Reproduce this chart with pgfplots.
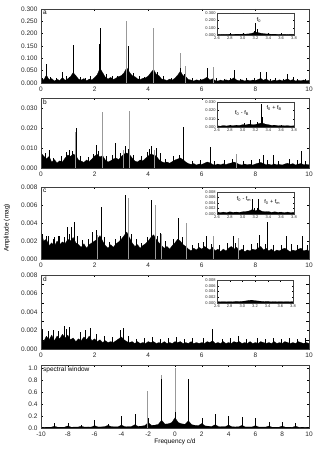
\documentclass[border=0pt]{standalone}
\usepackage{pgfplots}
\pgfplotsset{compat=1.18}
\usepackage{fontspec}
\setmainfont{Liberation Sans}

\definecolor{spk}{gray}{0.6}

\tikzset{
  lab/.style={anchor=north west, font=\fontsize{6.5}{7}\selectfont, inner sep=2pt},
  flab/.style={font=\fontsize{5.5}{6}\selectfont, inner sep=0.5pt},
}

\pgfplotsset{
  main/.style={
    scale only axis, width=268pt, xmin=0, xmax=10, ymin=0,
    xtick={0,2,4,6,8,10},
    scaled y ticks=false,
    /pgf/number format/assume math mode=true,
    yticklabel style={/pgf/number format/.cd,fixed,fixed zerofill,precision=3},
    ticklabel style={font=\fontsize{6.5}{7}\selectfont, text=black!85},
    tick style={black, line width=0.35pt},
    major tick length=2pt,
    axis line style={line width=0.5pt, black!75},
    axis on top, anchor=north west,
  },
  ins/.style={
    scale only axis, width=77pt, xmin=2.6, xmax=3.8, ymin=0,
    xtick={2.6,2.8,3.0,3.2,3.4,3.6,3.8},
    scaled y ticks=false,
    /pgf/number format/assume math mode=true,
    xticklabel style={yshift=-0.8pt, /pgf/number format/.cd,fixed,fixed zerofill,precision=1},
    yticklabel style={xshift=-0.8pt, /pgf/number format/.cd,fixed,fixed zerofill,precision=3},
    ticklabel style={font=\fontsize{4}{5}\selectfont, text=black!85, inner sep=0.5pt},
    tick style={black, line width=0.3pt},
    major tick length=1.5pt,
    axis line style={line width=0.5pt, black!75},
    axis background/.style={fill=white},
    axis on top, anchor=north west,
  },
  env/.style={fill=black, draw=black, line width=0.2pt},
  nz/.style={ycomb, black, line width=0.4pt, mark=none},
  pk/.style={ycomb, black, line width=0.6pt, mark=none},
  pg/.style={ycomb, spk, line width=0.6pt, mark=none},
}

\begin{document}
\begin{tikzpicture}
\useasboundingbox (0,0) rectangle (330pt,-462pt);

% ---------------- panel a
\begin{axis}[main, at={(41pt,-9pt)}, height=74pt, ymax=0.3,
  ytick={0,0.05,0.1,0.15,0.2,0.25,0.3}]
\addplot[env] coordinates {(0,.020)(0.1,.012)(0.2,.032)(0.3,.014)(0.4,.018)(0.5,.008)(0.6,.015)(0.7,.010)(0.8,.022)(0.9,.011)
(1.0,.017)(1.1,.026)(1.2,.042)(1.3,.030)(1.4,.016)(1.5,.012)(1.6,.018)(1.7,.009)(1.8,.016)(1.9,.013)
(2.0,.022)(2.1,.034)(2.2,.060)(2.3,.042)(2.4,.024)(2.5,.016)(2.6,.023)(2.7,.014)(2.8,.020)(2.9,.026)
(3.0,.030)(3.1,.042)(3.2,.062)(3.3,.044)(3.4,.030)(3.5,.026)(3.6,.017)(3.7,.014)(3.8,.019)(3.9,.021)
(4.0,.028)(4.1,.042)(4.2,.055)(4.3,.036)(4.4,.030)(4.5,.016)(4.6,.014)(4.7,.010)(4.8,.016)(4.9,.012)
(5.0,.020)(5.1,.032)(5.2,.048)(5.3,.030)(5.4,.026)(5.5,.014)(5.6,.012)(5.7,.008)(5.8,.013)(5.9,.010)
(6.0,.013)(6.1,.017)(6.2,.024)(6.3,.012)(6.4,.017)(6.5,.010)(6.6,.008)(6.7,.012)(6.8,.009)(6.9,.013)
(7.0,.010)(7.1,.015)(7.2,.021)(7.3,.012)(7.4,.009)(7.5,.013)(7.6,.008)(7.7,.012)(7.8,.009)(7.9,.012)
(8.0,.010)(8.1,.014)(8.2,.019)(8.3,.011)(8.4,.017)(8.5,.009)(8.6,.008)(8.7,.012)(8.8,.009)(8.9,.013)
(9.0,.009)(9.1,.012)(9.2,.017)(9.3,.010)(9.4,.014)(9.5,.008)(9.6,.011)(9.7,.009)(9.8,.012)(9.9,.009)(10,.011)} \closedcycle;
\addplot[nz] coordinates {(0.05,.022)(0.35,.024)(0.55,.020)(0.95,.028)(1.05,.025)(1.45,.026)(1.65,.022)(1.85,.030)
(2.45,.035)(2.65,.030)(2.85,.028)(3.45,.040)(3.65,.030)(3.85,.026)(4.35,.045)(4.55,.028)(4.85,.022)
(5.35,.036)(5.65,.020)(5.95,.018)(6.55,.020)(6.85,.018)(7.05,.020)(7.45,.018)(7.65,.020)(7.95,.022)
(8.55,.018)(8.75,.020)(9.05,.017)(9.55,.016)(9.85,.018)};
\addplot[pg] coordinates {(3.2,.253)(4.19,.222)(5.18,.120)(5.4,.068)(6.42,.065)};
\addplot[pk] coordinates {(0.2,.075)(0.8,.045)(1.22,.155)(2.18,.160)(2.21,.222)(3.24,.150)(5.21,.060)
(6.2,.060)(7.2,.052)(8.2,.045)(8.41,.045)(9.2,.036)(9.4,.025)};
\node[lab] at (rel axis cs:0,1) {a};
\end{axis}

\begin{axis}[ins, at={(217pt,-13pt)}, height=22pt, ymax=0.3, ytick={0,0.1,0.2,0.3}]
\addplot[env] coordinates {(2.60,.010)(2.65,.006)(2.70,.010)(2.75,.007)(2.80,.011)(2.85,.008)(2.90,.012)(2.95,.010)
(3.00,.013)(3.05,.012)(3.10,.016)(3.15,.025)(3.20,.040)(3.25,.030)(3.30,.022)(3.35,.016)(3.40,.014)(3.45,.010)
(3.50,.012)(3.55,.008)(3.60,.010)(3.65,.007)(3.70,.009)(3.75,.007)(3.80,.009)} \closedcycle;
\addplot[pk, line width=0.5pt] coordinates {(3.18,.06)(3.2,.16)(3.22,.08)};
\node[flab, anchor=south west] at (axis cs:3.21,0.16) {f\textsubscript{0}};
\end{axis}

% ---------------- panel b
\begin{axis}[main, at={(41pt,-98pt)}, height=70pt, ymax=0.035, ytick={0,0.01,0.02,0.03}]
\addplot[env] coordinates {(0,.0075)(0.1,.0060)(0.2,.0045)(0.3,.0058)(0.4,.0030)(0.5,.0042)(0.6,.0025)(0.7,.0036)(0.8,.0030)(0.9,.0050)
(1.0,.0065)(1.1,.0058)(1.2,.0070)(1.3,.0062)(1.4,.0040)(1.5,.0035)(1.6,.0028)(1.7,.0040)(1.8,.0032)(1.9,.0045)
(2.0,.0060)(2.1,.0068)(2.2,.0055)(2.3,.0062)(2.4,.0040)(2.5,.0030)(2.6,.0036)(2.7,.0045)(2.8,.0050)(2.9,.0042)
(3.0,.0058)(3.1,.0070)(3.2,.0075)(3.3,.0068)(3.4,.0050)(3.5,.0035)(3.6,.0030)(3.7,.0040)(3.8,.0036)(3.9,.0048)
(4.0,.0060)(4.1,.0070)(4.2,.0065)(4.3,.0060)(4.4,.0042)(4.5,.0032)(4.6,.0026)(4.7,.0030)(4.8,.0024)(4.9,.0032)
(5.0,.0040)(5.1,.0045)(5.2,.0050)(5.3,.0042)(5.4,.0030)(5.5,.0022)(5.6,.0018)(5.7,.0022)(5.8,.0015)(5.9,.0020)
(6.0,.0018)(6.1,.0024)(6.2,.0030)(6.3,.0026)(6.4,.0018)(6.5,.0015)(6.6,.0020)(6.7,.0016)(6.8,.0021)(6.9,.0017)
(7.0,.0022)(7.1,.0025)(7.2,.0030)(7.3,.0024)(7.4,.0018)(7.5,.0015)(7.6,.0020)(7.7,.0016)(7.8,.0019)(7.9,.0015)
(8.0,.0020)(8.1,.0024)(8.2,.0028)(8.3,.0022)(8.4,.0016)(8.5,.0019)(8.6,.0015)(8.7,.0020)(8.8,.0016)(8.9,.0018)
(9.0,.0015)(9.1,.0020)(9.2,.0024)(9.3,.0018)(9.4,.0022)(9.5,.0015)(9.6,.0019)(9.7,.0023)(9.8,.0016)(9.9,.0018)(10,.0016)} \closedcycle;
\addplot[nz] coordinates {(0.15,.0075)(0.45,.0050)(0.75,.0060)(0.95,.0080)(1.15,.0085)(1.45,.0060)(1.75,.0055)(1.95,.0070)
(2.15,.0085)(2.45,.0060)(2.65,.0065)(2.95,.0075)(3.25,.0095)(3.45,.0065)(3.75,.0060)(3.95,.0080)(4.05,.0095)
(4.45,.0075)(4.65,.0045)(4.95,.0060)(5.15,.0065)(5.65,.0035)(5.95,.0040)(6.45,.0035)(6.85,.0040)(7.15,.0045)
(7.55,.0035)(7.85,.0040)(8.15,.0045)(8.45,.0040)(8.85,.0035)(9.25,.0045)(9.55,.0040)(9.85,.0035)};
\addplot[pg] coordinates {(1.28,.018)(2.27,.028)(3.06,.009)(3.3,.0283)(4.22,.009)(7.3,.0072)};
\addplot[pk] coordinates {(0.32,.0088)(1.05,.009)(1.31,.020)(2.08,.0117)(2.77,.0125)(3.14,.011)(4.13,.011)
(4.3,.010)(5.31,.0203)(6.3,.0103)(8.29,.0067)(8.68,.0067)(9.7,.0083)};
\node[lab] at (rel axis cs:0,1) {b};
\end{axis}

\begin{axis}[ins, at={(217pt,-102pt)}, height=25pt, ymax=0.03, ytick={0,0.01,0.02,0.03}]
\addplot[env] coordinates {(2.60,.0015)(2.65,.0010)(2.70,.0018)(2.75,.0012)(2.80,.0020)(2.85,.0015)(2.90,.0022)(2.95,.0018)
(3.00,.0028)(3.05,.0025)(3.10,.0035)(3.15,.0028)(3.20,.0030)(3.25,.0040)(3.30,.0050)(3.35,.0035)(3.40,.0028)(3.45,.0020)
(3.50,.0022)(3.55,.0016)(3.60,.0018)(3.65,.0014)(3.70,.0016)(3.75,.0012)(3.80,.0015)} \closedcycle;
\addplot[pk, line width=0.5pt] coordinates {(3.02,.005)(3.12,.008)(3.23,.006)(3.29,.027)(3.31,.012)};
\node[flab] at (axis cs:2.99,0.0168) {f\textsubscript{0} - f\textsubscript{B}};
\node[flab] at (axis cs:3.49,0.0228) {f\textsubscript{0} + f\textsubscript{B}};
\end{axis}

% ---------------- panel c
\begin{axis}[main, at={(41pt,-187pt)}, height=72pt, ymax=0.008,
  ytick={0,0.002,0.004,0.006,0.008}]
\addplot[env] coordinates {(0,.0030)(0.1,.0020)(0.2,.0022)(0.3,.0015)(0.4,.0018)(0.5,.0014)(0.6,.0020)(0.7,.0016)(0.8,.0019)(0.9,.0017)
(1.0,.0022)(1.1,.0020)(1.2,.0024)(1.3,.0018)(1.4,.0016)(1.5,.0013)(1.6,.0017)(1.7,.0012)(1.8,.0016)(1.9,.0018)
(2.0,.0020)(2.1,.0022)(2.2,.0026)(2.3,.0020)(2.4,.0015)(2.5,.0012)(2.6,.0016)(2.7,.0013)(2.8,.0017)(2.9,.0019)
(3.0,.0022)(3.1,.0026)(3.2,.0030)(3.3,.0024)(3.4,.0018)(3.5,.0014)(3.6,.0016)(3.7,.0012)(3.8,.0015)(3.9,.0017)
(4.0,.0020)(4.1,.0024)(4.2,.0027)(4.3,.0022)(4.4,.0018)(4.5,.0015)(4.6,.0012)(4.7,.0014)(4.8,.0011)(4.9,.0015)
(5.0,.0018)(5.1,.0022)(5.2,.0020)(5.3,.0016)(5.4,.0014)(5.5,.0011)(5.6,.0009)(5.7,.0012)(5.8,.0010)(5.9,.0013)
(6.0,.0011)(6.1,.0014)(6.2,.0012)(6.3,.0010)(6.4,.0013)(6.5,.0009)(6.6,.0011)(6.7,.0008)(6.8,.0011)(6.9,.0009)
(7.0,.0012)(7.1,.0014)(7.2,.0011)(7.3,.0013)(7.4,.0009)(7.5,.0011)(7.6,.0008)(7.7,.0010)(7.8,.0009)(7.9,.0011)
(8.0,.0010)(8.1,.0012)(8.2,.0014)(8.3,.0010)(8.4,.0012)(8.5,.0009)(8.6,.0011)(8.7,.0008)(8.8,.0010)(8.9,.0009)
(9.0,.0011)(9.1,.0012)(9.2,.0010)(9.3,.0008)(9.4,.0010)(9.5,.0009)(9.6,.0011)(9.7,.0012)(9.8,.0009)(9.9,.0010)(10,.0009)} \closedcycle;
\addplot[nz] coordinates {(0.05,.0028)(0.25,.0026)(0.45,.0022)(0.65,.0025)(0.85,.0024)(1.05,.0028)(1.35,.0025)(1.55,.0021)
(1.75,.0022)(2.05,.0028)(2.35,.0024)(2.55,.0019)(2.75,.0022)(2.95,.0026)(3.35,.0028)(3.55,.0022)(3.75,.0018)
(3.95,.0024)(4.35,.0026)(4.65,.0020)(4.95,.0022)(5.25,.0024)(5.65,.0016)(5.85,.0018)(6.05,.0019)(6.35,.0017)
(6.65,.0016)(6.95,.0018)(7.25,.0018)(7.55,.0016)(7.85,.0017)(8.05,.0018)(8.35,.0017)(8.65,.0015)(8.95,.0016)
(9.35,.0017)(9.55,.0016)(9.95,.0015)};
\addplot[pg] coordinates {(2.1,.0027)(3.24,.0068)(4.25,.0060)(4.5,.0028)(5.43,.0040)(6.44,.0025)(7.36,.0023)};
\addplot[pk] coordinates {(0.01,.0037)(0.2,.0026)(0.5,.0024)(0.7,.0025)(0.97,.0036)(1.13,.0036)(1.24,.0041)
(1.9,.0030)(2.08,.0032)(2.25,.0058)(3.15,.0071)(4.13,.0065)(4.44,.0029)(5.12,.0045)(6.15,.0025)(7.17,.0025)
(8.15,.0027)(8.43,.0041)(9.15,.0025)(9.75,.0026)};
\node[lab] at (rel axis cs:0,1) {c};
\end{axis}

\begin{axis}[ins, at={(217pt,-192pt)}, height=22pt, ymax=0.008, ytick={0,0.002,0.004,0.006,0.008}]
\addplot[env] coordinates {(2.60,.0008)(2.65,.0005)(2.70,.0007)(2.75,.0005)(2.80,.0008)(2.85,.0006)(2.90,.0007)(2.95,.0006)
(3.00,.0008)(3.05,.0009)(3.10,.0011)(3.15,.0016)(3.20,.0012)(3.25,.0016)(3.30,.0010)(3.35,.0008)(3.40,.0009)(3.45,.0006)
(3.50,.0008)(3.55,.0006)(3.60,.0007)(3.65,.0005)(3.70,.0007)(3.75,.0005)(3.80,.0006)} \closedcycle;
\addplot[pk, line width=0.5pt] coordinates {(3.15,.0056)(3.18,.0020)(3.22,.0020)(3.25,.0056)};
\node[flab] at (axis cs:3.02,0.0055) {f\textsubscript{0} - f\textsubscript{m}};
\node[flab] at (axis cs:3.46,0.0044) {f\textsubscript{0} + f\textsubscript{m}};
\end{axis}

% ---------------- panel d
\begin{axis}[main, at={(41pt,-275pt)}, height=74pt, ymax=0.008,
  ytick={0,0.002,0.004,0.006,0.008}, minor ytick={0.001,0.003,0.005,0.007}]
\addplot[env] coordinates {(0,.0013)(0.1,.0008)(0.2,.0014)(0.3,.0010)(0.4,.0015)(0.5,.0009)(0.6,.0014)(0.7,.0011)(0.8,.0016)(0.9,.0012)
(1.0,.0015)(1.1,.0010)(1.2,.0012)(1.3,.0008)(1.4,.0011)(1.5,.0009)(1.6,.0013)(1.7,.0010)(1.8,.0014)(1.9,.0009)
(2.0,.0011)(2.1,.0008)(2.2,.0010)(2.3,.0007)(2.4,.0009)(2.5,.0007)(2.6,.0008)(2.7,.0007)(2.8,.0009)(2.9,.0011)
(3.0,.0013)(3.1,.0010)(3.2,.0008)(3.3,.0007)(3.4,.0008)(3.5,.0006)(3.6,.0008)(3.7,.0006)(3.8,.0007)(3.9,.0006)
(4.0,.0008)(4.1,.0007)(4.2,.0008)(4.3,.0006)(4.4,.0007)(4.5,.0006)(4.6,.0008)(4.7,.0006)(4.8,.0007)(4.9,.0006)
(5.0,.0008)(5.1,.0007)(5.2,.0008)(5.3,.0006)(5.4,.0007)(5.5,.0006)(5.6,.0008)(5.7,.0006)(5.8,.0007)(5.9,.0006)
(6.0,.0007)(6.1,.0006)(6.2,.0008)(6.3,.0007)(6.4,.0009)(6.5,.0006)(6.6,.0007)(6.7,.0006)(6.8,.0008)(6.9,.0006)
(7.0,.0007)(7.1,.0006)(7.2,.0008)(7.3,.0007)(7.4,.0008)(7.5,.0006)(7.6,.0007)(7.7,.0006)(7.8,.0008)(7.9,.0006)
(8.0,.0007)(8.1,.0006)(8.2,.0008)(8.3,.0007)(8.4,.0006)(8.5,.0007)(8.6,.0006)(8.7,.0008)(8.8,.0006)(8.9,.0007)
(9.0,.0006)(9.1,.0008)(9.2,.0007)(9.3,.0006)(9.4,.0007)(9.5,.0006)(9.6,.0008)(9.7,.0007)(9.8,.0006)(9.9,.0007)(10,.0006)} \closedcycle;
\addplot[nz] coordinates {(0.05,.0022)(0.25,.0020)(0.45,.0021)(0.65,.0019)(0.85,.0025)(0.95,.0022)(1.05,.0024)(1.45,.0018)
(1.65,.0021)(1.85,.0023)(2.05,.0016)(2.35,.0014)(2.65,.0013)(2.95,.0021)(3.05,.0023)(3.25,.0014)(3.55,.0011)
(3.85,.0012)(4.15,.0013)(4.45,.0011)(4.75,.0012)(5.05,.0013)(5.35,.0011)(5.65,.0012)(6.05,.0012)(6.4,.0022)
(6.75,.0011)(7.05,.0012)(7.35,.0014)(7.65,.0011)(8.05,.0012)(8.35,.0011)(8.65,.0012)(8.95,.0011)(9.25,.0012)
(9.55,.0011)(9.85,.0012)};
\node[lab] at (rel axis cs:0,1) {d};
\end{axis}

\begin{axis}[ins, at={(217pt,-280pt)}, width=76pt, height=23pt, ymax=0.008, ytick={0,0.002,0.004,0.006,0.008}]
\addplot[env] coordinates {(2.60,.0005)(2.65,.0004)(2.70,.0005)(2.75,.0004)(2.80,.0005)(2.85,.0004)(2.90,.0006)(2.95,.0005)
(3.00,.0006)(3.05,.0007)(3.10,.0009)(3.15,.0010)(3.20,.0008)(3.25,.0007)(3.30,.0006)(3.35,.0005)(3.40,.0006)(3.45,.0004)
(3.50,.0005)(3.55,.0004)(3.60,.0005)(3.65,.0004)(3.70,.0005)(3.75,.0004)(3.80,.0005)} \closedcycle;
\end{axis}

% ---------------- spectral window
\begin{axis}[main, at={(41pt,-365pt)}, height=63pt, xmin=-10, xmax=10, ymax=1.05,
  xtick={-10,-8,-6,-4,-2,0,2,4,6,8,10}, ytick={0,0.2,0.4,0.6,0.8,1.0},
  yticklabel style={/pgf/number format/.cd,fixed,fixed zerofill,precision=1}]
\addplot[env] coordinates {(-10,.015)(-9.75,.012)(-9.5,.014)(-9.25,.013)(-9,.030)(-8.75,.013)(-8.5,.015)(-8.25,.014)
(-8,.035)(-7.75,.014)(-7.5,.016)(-7.25,.015)(-7,.030)(-6.75,.015)(-6.5,.017)(-6.25,.016)(-6,.040)(-5.75,.017)
(-5.5,.019)(-5.25,.022)(-5,.045)(-4.75,.022)(-4.5,.020)(-4.25,.020)(-4,.050)(-3.75,.022)(-3.5,.024)(-3.25,.025)
(-3,.055)(-2.75,.028)(-2.5,.032)(-2.25,.040)(-2,.090)(-1.75,.045)(-1.5,.048)(-1.25,.060)(-1,.130)(-0.75,.065)
(-0.5,.070)(-0.25,.090)(0,.170)(0.25,.090)(0.5,.070)(0.75,.062)(1,.120)(1.25,.055)(1.5,.045)(1.75,.040)
(2,.075)(2.25,.035)(2.5,.030)(2.75,.027)(3,.055)(3.25,.024)(3.5,.022)(3.75,.021)(4,.050)(4.25,.020)
(4.5,.019)(4.75,.020)(5,.045)(5.25,.018)(5.5,.017)(5.75,.017)(6,.040)(6.25,.016)(6.5,.016)(6.75,.015)
(7,.032)(7.25,.014)(7.5,.015)(7.75,.013)(8,.032)(8.25,.013)(8.5,.014)(8.75,.012)(9,.030)(9.25,.012)
(9.5,.013)(9.75,.012)(10,.014)} \closedcycle;
\addplot[pg] coordinates {(-2.04,.61)(-1.05,.88)(0,1.0)};
\addplot[pk] coordinates {(-9,.08)(-8,.09)(-7,.05)(-6,.13)(-5,.07)(-4,.20)(-3,.23)(-1.98,.16)(-1,.82)(0.05,.27)
(1,.82)(2,.16)(3,.24)(4,.20)(5,.18)(6,.17)(7,.10)(8,.10)(9,.08)};
\node[lab] at (rel axis cs:0,1) {spectral window};
\end{axis}

\node[rotate=90, font=\fontsize{6.5}{7}\selectfont] at (7pt,-228pt) {Amplitude (mag)};
\node[font=\fontsize{6.5}{7}\selectfont] at (175pt,-442pt) {Frequency c/d};
\end{tikzpicture}
\end{document}
